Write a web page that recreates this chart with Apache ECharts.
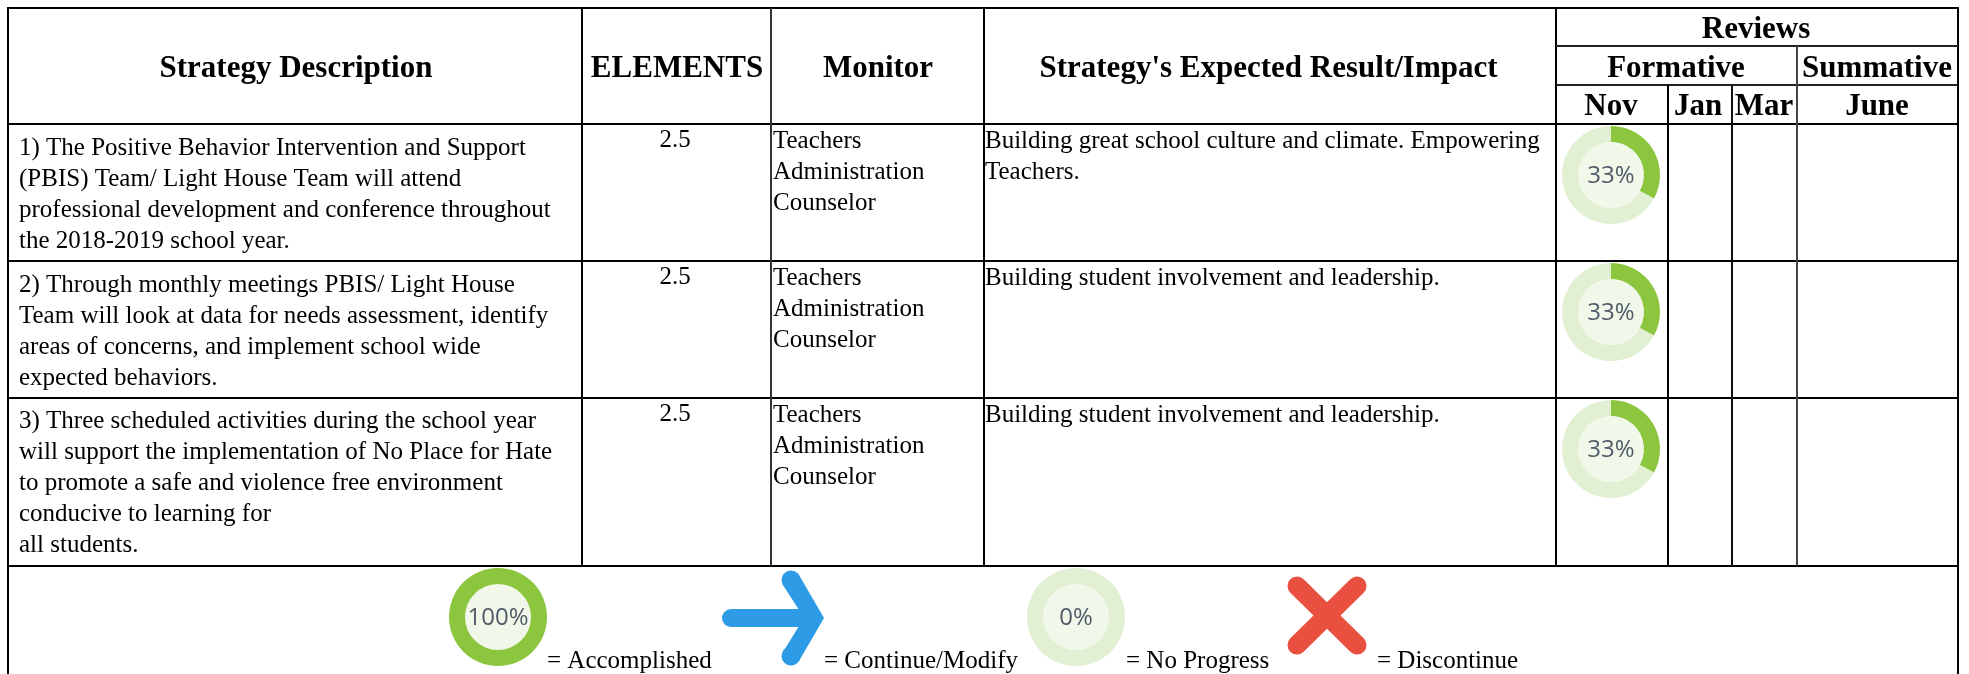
<!DOCTYPE html>
<html><head><meta charset="utf-8">
<style>html,body{margin:0;padding:0;background:#fff}#c{width:1969px;height:674px}</style>
<script src="https://cdn.jsdelivr.net/npm/echarts@6/dist/echarts.min.js"></script>
</head><body><div id="c"></div>
<script>
// ---- data ----
const columnTitles = ["Strategy Description", "ELEMENTS", "Monitor", "Strategy's Expected Result/Impact"];
const reviewGroup = "Reviews";
const reviewStages = ["Formative", "Summative"];
const reviewMonths = ["Nov", "Jan", "Mar", "June"];
const strategyText = [
  ["1) The Positive Behavior Intervention and Support", "(PBIS) Team/ Light House Team will attend", "professional development and conference throughout", "the 2018-2019 school year."],
  ["2) Through monthly meetings PBIS/ Light House", "Team will look at data for needs assessment, identify", "areas of concerns, and implement school wide", "expected behaviors."],
  ["3) Three scheduled activities during the school year", "will support the implementation of No Place for Hate", "to promote a safe and violence free environment", "conducive to learning for", "all students."]
];
const elementValues = ["2.5", "2.5", "2.5"];
const monitorText = ["Teachers", "Administration", "Counselor"];
const impactText = [
  ["Building great school culture and climate. Empowering", "Teachers."],
  ["Building student involvement and leadership."],
  ["Building student involvement and leadership."]
];
const novProgress = [33, 33, 33];
const legendProgress = [100, 0];
const legendLabels = ["= Accomplished", "= Continue/Modify", "= No Progress", "= Discontinue"];

// ---- layout and style ----
const SERIF = '"Liberation Serif","Times New Roman",serif';
const colX = [8, 582, 771, 984, 1556, 1668, 1732, 1797, 1958];
const rowY = [8, 124, 261, 398, 566];
const BODY = 25, HEAD = 31;
const GREEN = '#8cc63f', TRACK = '#e1f0d2', DISC = '#f1f8ea', BLUE = '#2d9be5';
const g = [];
function line(x1, y1, x2, y2, color) {
  g.push({ type: 'line', silent: true, shape: { x1, y1, x2, y2 }, style: { stroke: color || '#000', lineWidth: 2 } });
}
function text(str, x, base, size, bold, align) {
  g.push({ type: 'text', silent: true, x, y: base - size * 0.3375, style: {
    text: str, fill: '#000', font: (bold ? 'bold ' : '') + size + 'px ' + SERIF,
    textAlign: align || 'left', textVerticalAlign: 'middle', verticalAlign: 'middle' } });
}
// borders
rowY.forEach(y => line(colX[0] - 1, y, colX[8] + 1, y));
line(colX[0], rowY[0], colX[0], 674);
line(colX[8], rowY[0], colX[8], 674);
[1, 3, 4].forEach(i => line(colX[i], rowY[0], colX[i], rowY[4]));
line(colX[2], rowY[0], colX[2], rowY[4], '#333');
line(colX[4], 46, colX[8], 46, '#222');
line(colX[4], 85, colX[8], 85, '#222');
line(colX[5], 85, colX[5], rowY[4]);
line(colX[6], 85, colX[6], rowY[4], '#111');
line(colX[7], 46, colX[7], rowY[4], '#444');
// header
[296, 677, 878, 1268.5].forEach((x, i) => text(columnTitles[i], x, 79, HEAD, true, 'center'));
text(reviewGroup, 1756, 40, HEAD, true, 'center');
[1676, 1877].forEach((x, i) => text(reviewStages[i], x, 79, HEAD, true, 'center'));
[1611, 1698, 1764, 1877].forEach((x, i) => text(reviewMonths[i], x, 117, HEAD, true, 'center'));
// body
const firstStrategyBase = [156.5, 293.5, 430];
strategyText.forEach((ls, r) => ls.forEach((t, i) => text(t, 19, firstStrategyBase[r] + i * 31, BODY)));
rowY.slice(1, 4).forEach((y, r) => {
  const base = y + 25;
  text(elementValues[r], 675, base, BODY, false, 'center');
  monitorText.forEach((t, i) => text(t, 773, base + 1 + i * 31, BODY));
  impactText[r].forEach((t, i) => text(t, 985, base + 1 + i * 31, BODY));
});
// legend text
[547, 824, 1126, 1377].forEach((x, i) => text(legendLabels[i], x, 670, BODY));
// legend icons
g.push({ type: 'polyline', silent: true, shape: { points: [[731, 618], [806, 618]] }, style: { stroke: BLUE, lineWidth: 18, lineCap: 'round', fill: null } });
g.push({ type: 'polygon', silent: true, shape: { points: [[783, 585], [799, 575], [824, 618], [799, 661], [783, 652], [799, 626], [799, 610]] }, style: { fill: BLUE } });
g.push({ type: 'circle', silent: true, shape: { cx: 791, cy: 580, r: 9.5 }, style: { fill: BLUE } });
g.push({ type: 'circle', silent: true, shape: { cx: 791, cy: 656, r: 9.5 }, style: { fill: BLUE } });
g.push({ type: 'line', silent: true, shape: { x1: 1297, y1: 586, x2: 1357, y2: 645 }, style: { stroke: '#e9503f', lineWidth: 19, lineCap: 'round' } });
g.push({ type: 'line', silent: true, shape: { x1: 1357, y1: 586, x2: 1297, y2: 645 }, style: { stroke: '#e9503f', lineWidth: 19, lineCap: 'round' } });

// donuts
function donut(p, cx, cy) {
  return [{
    type: 'pie', silent: true, animation: false, center: [cx, cy], radius: [0, 33],
    label: { show: true, position: 'center', formatter: '{b}', fontFamily: '"Open Sans"', fontSize: 24, color: '#4f5b68', offset: [0, 1] },
    labelLine: { show: false }, itemStyle: { color: DISC },
    data: [{ value: 1, name: p + '%' }]
  }, {
    type: 'pie', silent: true, animation: false, center: [cx, cy], radius: [33, 49], startAngle: 90, clockwise: true,
    label: { show: false }, labelLine: { show: false }, padAngle: 0,
    data: [{ value: p, name: 'done', itemStyle: { color: GREEN } }, { value: 100 - p, name: 'rest', itemStyle: { color: TRACK } }]
  }];
}
const series = [];
const donutY = [175, 312, 449];
novProgress.forEach((p, i) => series.push(...donut(p, 1611, donutY[i])));
[498, 1076].forEach((x, i) => series.push(...donut(legendProgress[i], x, 617)));

const chart = echarts.init(document.getElementById('c'), null, { renderer: 'canvas' });
chart.setOption({ animation: false, backgroundColor: '#fff', graphic: { elements: g }, series });
</script></body></html>
